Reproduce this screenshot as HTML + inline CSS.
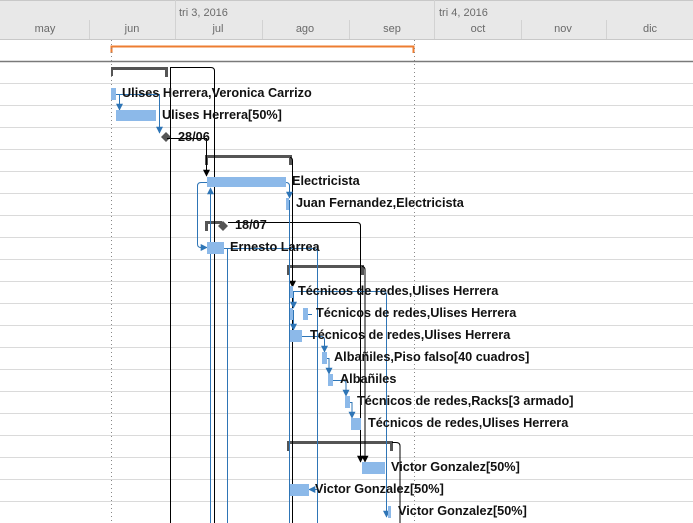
<!DOCTYPE html>
<html><head><meta charset="utf-8"><style>
html,body{margin:0;padding:0;background:#fff;}
svg{display:block;}
text{font-family:"Liberation Sans",Arial,sans-serif;}
.h{font-size:11px;fill:#6a6a6a;}
.l{font-size:12.7px;font-weight:bold;fill:#111;}
</style></head><body>
<svg width="693" height="523" viewBox="0 0 693 523" xmlns="http://www.w3.org/2000/svg">
<defs>
<marker id="ab" viewBox="0 0 10 10" refX="9" refY="5" markerWidth="7" markerHeight="9" orient="auto" markerUnits="userSpaceOnUse"><path d="M0,0 L10,5 L0,10 z" fill="#2e75b6"/></marker>
<marker id="ak" viewBox="0 0 10 10" refX="9" refY="5" markerWidth="7" markerHeight="9" orient="auto" markerUnits="userSpaceOnUse"><path d="M0,0 L10,5 L0,10 z" fill="#000"/></marker>
</defs>
<rect x="0" y="0" width="693" height="39" fill="#e8e8e8"/>
<line x1="0" y1="0.5" x2="693" y2="0.5" stroke="#c8c8c8"/>
<line x1="0" y1="39.5" x2="693" y2="39.5" stroke="#c8c8c8"/>
<g stroke="#d2d2d2">
<line x1="89.5" y1="20" x2="89.5" y2="39"/>
<line x1="175.5" y1="0" x2="175.5" y2="39"/>
<line x1="262.5" y1="20" x2="262.5" y2="39"/>
<line x1="349.5" y1="20" x2="349.5" y2="39"/>
<line x1="434.5" y1="0" x2="434.5" y2="39"/>
<line x1="521.5" y1="20" x2="521.5" y2="39"/>
<line x1="606.5" y1="20" x2="606.5" y2="39"/>
</g>
<text class="h" x="179" y="16">tri 3, 2016</text>
<text class="h" x="439" y="16">tri 4, 2016</text>
<g class="h" text-anchor="middle">
<text x="45" y="32">may</text><text x="132" y="32">jun</text><text x="218" y="32">jul</text>
<text x="305" y="32">ago</text><text x="392" y="32">sep</text><text x="478" y="32">oct</text>
<text x="563" y="32">nov</text><text x="650" y="32">dic</text>
</g>
<path d="M111.5,53 V46.5 H413.5 V53" fill="none" stroke="#ed7d31" stroke-width="2"/>
<line x1="0" y1="61.5" x2="693" y2="61.5" stroke="#7a7a7a" stroke-width="1.5"/>
<g stroke="#dadada">
<line x1="0" y1="83.5" x2="693" y2="83.5"/><line x1="0" y1="105.5" x2="693" y2="105.5"/>
<line x1="0" y1="127.5" x2="693" y2="127.5"/><line x1="0" y1="149.5" x2="693" y2="149.5"/>
<line x1="0" y1="171.5" x2="693" y2="171.5"/><line x1="0" y1="193.5" x2="693" y2="193.5"/>
<line x1="0" y1="215.5" x2="693" y2="215.5"/><line x1="0" y1="237.5" x2="693" y2="237.5"/>
<line x1="0" y1="259.5" x2="693" y2="259.5"/><line x1="0" y1="281.5" x2="693" y2="281.5"/>
<line x1="0" y1="303.5" x2="693" y2="303.5"/><line x1="0" y1="325.5" x2="693" y2="325.5"/>
<line x1="0" y1="347.5" x2="693" y2="347.5"/><line x1="0" y1="369.5" x2="693" y2="369.5"/>
<line x1="0" y1="391.5" x2="693" y2="391.5"/><line x1="0" y1="413.5" x2="693" y2="413.5"/>
<line x1="0" y1="435.5" x2="693" y2="435.5"/><line x1="0" y1="457.5" x2="693" y2="457.5"/>
<line x1="0" y1="479.5" x2="693" y2="479.5"/><line x1="0" y1="501.5" x2="693" y2="501.5"/>
</g>
<g stroke="#888" stroke-dasharray="1,3">
<line x1="111.5" y1="40" x2="111.5" y2="523"/><line x1="414.5" y1="40" x2="414.5" y2="523"/>
</g>
<g fill="#555">
<rect x="111" y="67" width="56" height="3"/><rect x="111" y="67" width="2" height="9"/><rect x="165" y="67" width="3" height="10"/>
<rect x="206" y="155" width="85" height="3"/><rect x="205" y="155" width="3" height="10"/><rect x="289" y="155" width="3" height="10"/>
<rect x="205" y="221" width="17" height="3"/><rect x="205" y="221" width="3" height="10"/>
<rect x="288" y="265" width="74" height="3"/><rect x="287" y="265" width="3" height="10"/><rect x="361" y="265" width="3" height="10"/>
<rect x="288" y="441" width="104" height="3"/><rect x="287" y="441" width="3" height="10"/><rect x="390" y="441" width="3" height="10"/>
<path d="M166,132 L171,137 L166,142 L161,137 z"/>
<path d="M223,221 L228,226 L223,231 L218,226 z"/>
</g>
<g fill="none" stroke="#000" stroke-width="1">
<path d="M170.5,523 V67.5 H211 Q214.5,67.5 214.5,71 V523"/>
<path d="M167,138.5 H206.5 V176" marker-end="url(#ak)"/>
<path d="M290,157.5 Q292.5,157.5 292.5,161 V523"/>
<path d="M292.5,265 V287" marker-end="url(#ak)"/>
<path d="M228,222.5 H357 Q360.5,222.5 360.5,226 V462" marker-end="url(#ak)"/>
<path d="M362,266.5 Q365,266.5 365,270 V462" marker-end="url(#ak)"/>
<path d="M392,442.5 H396 Q400,442.5 400,446 V523"/>
</g>
<g fill="none" stroke="#2e75b6" stroke-width="1">
<path d="M113,94.5 H159.5 V133" marker-end="url(#ab)"/>
<path d="M119.5,94 V110" marker-end="url(#ab)"/>
<path d="M207,182.5 H201 Q197.5,182.5 197.5,186 V244 Q197.5,247.5 201,247.5 H207" marker-end="url(#ab)"/>
<path d="M210.5,523 V188" marker-end="url(#ab)"/>
<path d="M227.5,248 V523"/>
<path d="M224,248.5 H314 Q317.5,248.5 317.5,252 V523"/>
<path d="M286,182.5 Q289.5,182.5 289.5,186 V198" marker-end="url(#ab)"/>
<path d="M289.5,200 V523"/>
<path d="M293,291.5 H383 Q386.5,291.5 386.5,295 V517" marker-end="url(#ab)"/>
<path d="M293.5,292 V308" marker-end="url(#ab)"/>
<path d="M293.5,310 V330" marker-end="url(#ab)"/>
<path d="M308,314.5 H312"/>
<path d="M302,336.5 H321 Q324.5,336.5 324.5,340 V352" marker-end="url(#ab)"/>
<path d="M327,358.5 H329 V374" marker-end="url(#ab)"/>
<path d="M333,380.5 H343 Q346,380.5 346,384 V396" marker-end="url(#ab)"/>
<path d="M350,402.5 H352 V418" marker-end="url(#ab)"/>
<path d="M317.5,489.5 H309" marker-end="url(#ab)"/>
</g>
<g fill="#8cb9e9">
<rect x="111" y="88" width="5" height="12"/>
<rect x="116" y="110" width="40" height="11"/>
<rect x="207" y="177" width="79" height="10"/>
<rect x="286" y="198" width="3" height="12"/>
<rect x="207" y="242" width="17" height="12"/>
<rect x="290" y="286" width="3" height="12"/>
<rect x="290" y="308" width="3" height="12"/>
<rect x="303" y="308" width="5" height="12"/>
<rect x="290" y="330" width="12" height="12"/>
<rect x="322" y="352" width="5" height="12"/>
<rect x="328" y="374" width="5" height="12"/>
<rect x="345" y="396" width="5" height="12"/>
<rect x="351" y="418" width="10" height="12"/>
<rect x="362" y="462" width="23" height="12"/>
<rect x="290" y="484" width="19" height="12"/>
<rect x="388" y="506" width="3" height="12"/>
</g>
<g class="l">
<text x="122" y="97">Ulises Herrera,Veronica Carrizo</text>
<text x="162" y="119">Ulises Herrera[50%]</text>
<text x="178" y="141">28/06</text>
<text x="292" y="185">Electricista</text>
<text x="296" y="207">Juan Fernandez,Electricista</text>
<text x="235" y="229">18/07</text>
<text x="230" y="251">Ernesto Larrea</text>
<text x="298" y="295">Técnicos de redes,Ulises Herrera</text>
<text x="316" y="317">Técnicos de redes,Ulises Herrera</text>
<text x="310" y="339">Técnicos de redes,Ulises Herrera</text>
<text x="334" y="361">Albañiles,Piso falso[40 cuadros]</text>
<text x="340" y="383">Albañiles</text>
<text x="357" y="405">Técnicos de redes,Racks[3 armado]</text>
<text x="368" y="427">Técnicos de redes,Ulises Herrera</text>
<text x="391" y="471">Victor Gonzalez[50%]</text>
<text x="315" y="493">Victor Gonzalez[50%]</text>
<text x="398" y="515">Victor Gonzalez[50%]</text>
</g>
</svg>
</body></html>
